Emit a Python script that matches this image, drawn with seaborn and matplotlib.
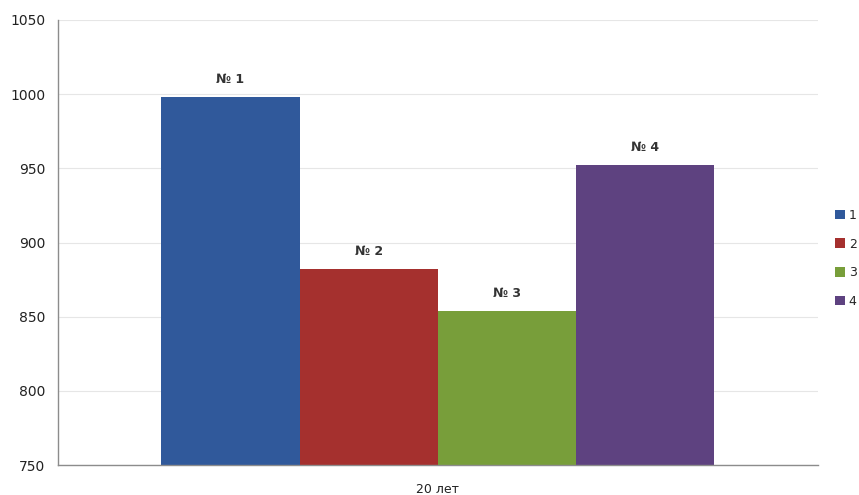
import matplotlib
matplotlib.use("Agg")
import matplotlib.pyplot as plt
import seaborn as sns
import pandas as pd

categories = ["20 лет"]
series = ["1", "2", "3", "4"]
values = [998, 882, 854, 952]
bar_labels = ["№ 1", "№ 2", "№ 3", "№ 4"]
colors = ["#30599B", "#A5302E", "#789E3A", "#5E4280"]

df = pd.DataFrame({"cat": categories * len(series), "series": series, "value": values})

sns.set_style("white")
plt.rcParams["font.family"] = ["DejaVu Sans"]

fig = plt.figure(figsize=(8.59, 4.95), dpi=100)
ax = fig.add_axes([0.0675, 0.0606, 0.8845, 0.899])

sns.barplot(data=df, x="cat", y="value", hue="series", palette=colors,
            width=0.728, gap=0, saturation=1, ax=ax, legend=False,
            linewidth=0, edgecolor="none")

ax.set_ylim(750, 1050)
ax.set_xlim(-0.5, 0.5)
ax.set_yticks([750, 800, 850, 900, 950, 1000, 1050])
ax.yaxis.grid(True, color="#E6E6E6", linewidth=0.8)
ax.set_axisbelow(True)
for s in ["top", "right"]:
    ax.spines[s].set_visible(False)
for s in ["left", "bottom"]:
    ax.spines[s].set_color("#8C8C8C")
    ax.spines[s].set_linewidth(1.0)
ax.tick_params(axis="y", length=5, color="#8C8C8C", labelsize=10, pad=4, labelcolor="#222222")
ax.tick_params(axis="x", length=0, labelsize=9, pad=13, labelcolor="#222222")
ax.set_xlabel("")
ax.set_ylabel("")

for patch, lab in zip(ax.patches, bar_labels):
    ax.annotate(lab, (patch.get_x() + patch.get_width() / 2, patch.get_height()),
                xytext=(0, 8), textcoords="offset points", ha="center", va="bottom",
                fontsize=9, fontweight="bold", color="#333333")

from matplotlib.patches import Patch
handles = [Patch(facecolor=c, edgecolor="none") for c in colors]
fig.legend(handles, series, loc="upper left", bbox_to_anchor=(0.972, 0.578),
           frameon=False, handlelength=0.8, handleheight=0.8, labelspacing=1.25,
           fontsize=9, borderaxespad=0, handletextpad=0.3, borderpad=0)

fig.savefig("out.png", dpi=100)
